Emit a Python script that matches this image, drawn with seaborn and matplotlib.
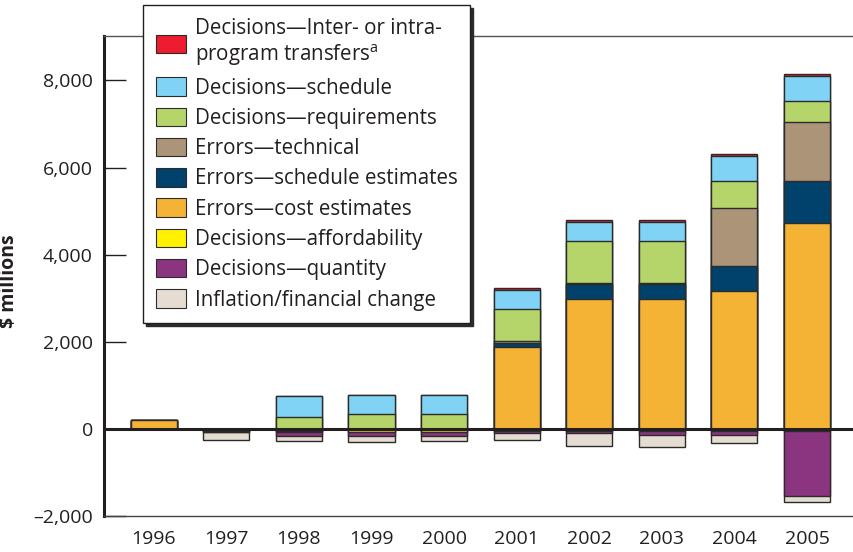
import matplotlib
matplotlib.use("Agg")
import matplotlib.pyplot as plt
from matplotlib.patches import Patch
import seaborn as sns
import numpy as np
import pandas as pd

# data ($ millions)
years = ['1996', '1997', '1998', '1999', '2000', '2001', '2002', '2003', '2004', '2005']
transfers = [0, 0, 0, 0, 0, 46, 45, 45, 45, 46]
schedule = [0, 0, 490, 430, 430, 430, 430, 430, 575, 590]
requirements = [0, 0, 270, 345, 345, 735, 978, 978, 604, 466]
technical = [0, 0, 0, 0, 0, 40, 32, 32, 1332, 1362]
sched_est = [0, 0, 0, 0, 0, 105, 335, 335, 567, 965]
cost_est = [200, -40, -40, -35, -35, 1877, 2980, 2980, 3177, 4725]
affordability = [0, -40, -40, -40, -40, -50, -50, -40, -40, -55]
quantity = [0, 0, -75, -80, -80, -50, -55, -90, -100, -1475]
inflation = [0, -180, -130, -140, -130, -150, -280, -290, -180, -140]

labels = ['Decisions\u2014Inter- or intra-\nprogram transfers$^{\\rm a}$',
          'Decisions\u2014schedule',
          'Decisions\u2014requirements',
          'Errors\u2014technical',
          'Errors\u2014schedule estimates',
          'Errors\u2014cost estimates',
          'Decisions\u2014affordability',
          'Decisions\u2014quantity',
          'Inflation/financial change']
series = [transfers, schedule, requirements, technical, sched_est,
          cost_est, affordability, quantity, inflation]
colors = ['#ED1C2E', '#80D3F5', '#B5D56A', '#AC9479', '#00426B',
          '#F5B335', '#FFF100', '#8B3580', '#E5DDD2']

sns.set_style('white')
plt.rcParams['font.family'] = ['Open Sans', 'DejaVu Sans']
plt.rcParams['mathtext.fontset'] = 'custom'
plt.rcParams['mathtext.rm'] = 'Open Sans'
ink = '#231f20'

fig = plt.figure(figsize=(8.54, 5.52), dpi=100)
ax = fig.add_axes([104/854, 1-516/552, 750/854, 480/552])

vals = np.array(series, dtype=float)
pos = np.clip(vals, 0, None)
neg = np.clip(vals, None, 0)
edge = dict(edgecolor='#2b2b2b', linewidth=1.0, width=0.634, errorbar=None, ax=ax)

# positive parts stack upward from cost estimates -> transfers (legend order reversed)
for i in range(len(series)):
    cum = pos[i:].sum(axis=0)
    df = pd.DataFrame({'year': years, 'val': cum})
    sns.barplot(data=df, x='year', y='val', color=colors[i], saturation=1, **edge)

# negative parts stack downward from cost estimates -> inflation (legend order)
for i in reversed(range(len(series))):
    cum = neg[:i+1].sum(axis=0)
    df = pd.DataFrame({'year': years, 'val': cum})
    sns.barplot(data=df, x='year', y='val', color=colors[i], saturation=1, **edge)

ax.axhline(0, color=ink, lw=2.2, zorder=10)

ax.set_xlim(-0.685, 9.647)
ax.set_ylim(-2000, 9020)
ax.set_yticks([-2000, 0, 2000, 4000, 6000, 8000])
ax.set_yticklabels(['\u20132,000', '0', '2,000', '4,000', '6,000', '8,000'])
ax.tick_params(axis='y', direction='in', length=16, width=1, color=ink,
               labelsize=14, labelcolor=ink, pad=8, left=True)
ax.tick_params(axis='x', length=0, labelsize=14, labelcolor=ink, pad=10)
ax.set_xlabel('')
ax.set_ylabel('$ millions', fontsize=14, fontweight='bold', color=ink)
ax.yaxis.set_label_coords(-0.113, 0.49)

ax.spines['left'].set_linewidth(2.2)
ax.spines['left'].set_color(ink)
ax.spines['bottom'].set_linewidth(1)
ax.spines['bottom'].set_color('#444444')
ax.spines['top'].set_linewidth(1)
ax.spines['top'].set_color('#555555')
ax.spines['right'].set_visible(False)

handles = [Patch(facecolor=c, edgecolor='#2b2b2b', linewidth=0.8) for c in colors]
leg = fig.legend(handles, labels, loc='upper left',
                 bbox_to_anchor=(143/854, 1-5/552), bbox_transform=fig.transFigure,
                 fontsize=14.8, frameon=True, fancybox=False, borderaxespad=0,
                 handlelength=1.45, handleheight=1.0, handletextpad=0.45,
                 labelspacing=0.44, borderpad=0.62,
                 shadow={'color': '#2b2b2b', 'alpha': 1})
leg.get_frame().set_edgecolor(ink)
leg.get_frame().set_linewidth(1)
leg.get_frame().set_alpha(1)
for t in leg.get_texts():
    t.set_color(ink)

fig.savefig('out.png', dpi=100)
